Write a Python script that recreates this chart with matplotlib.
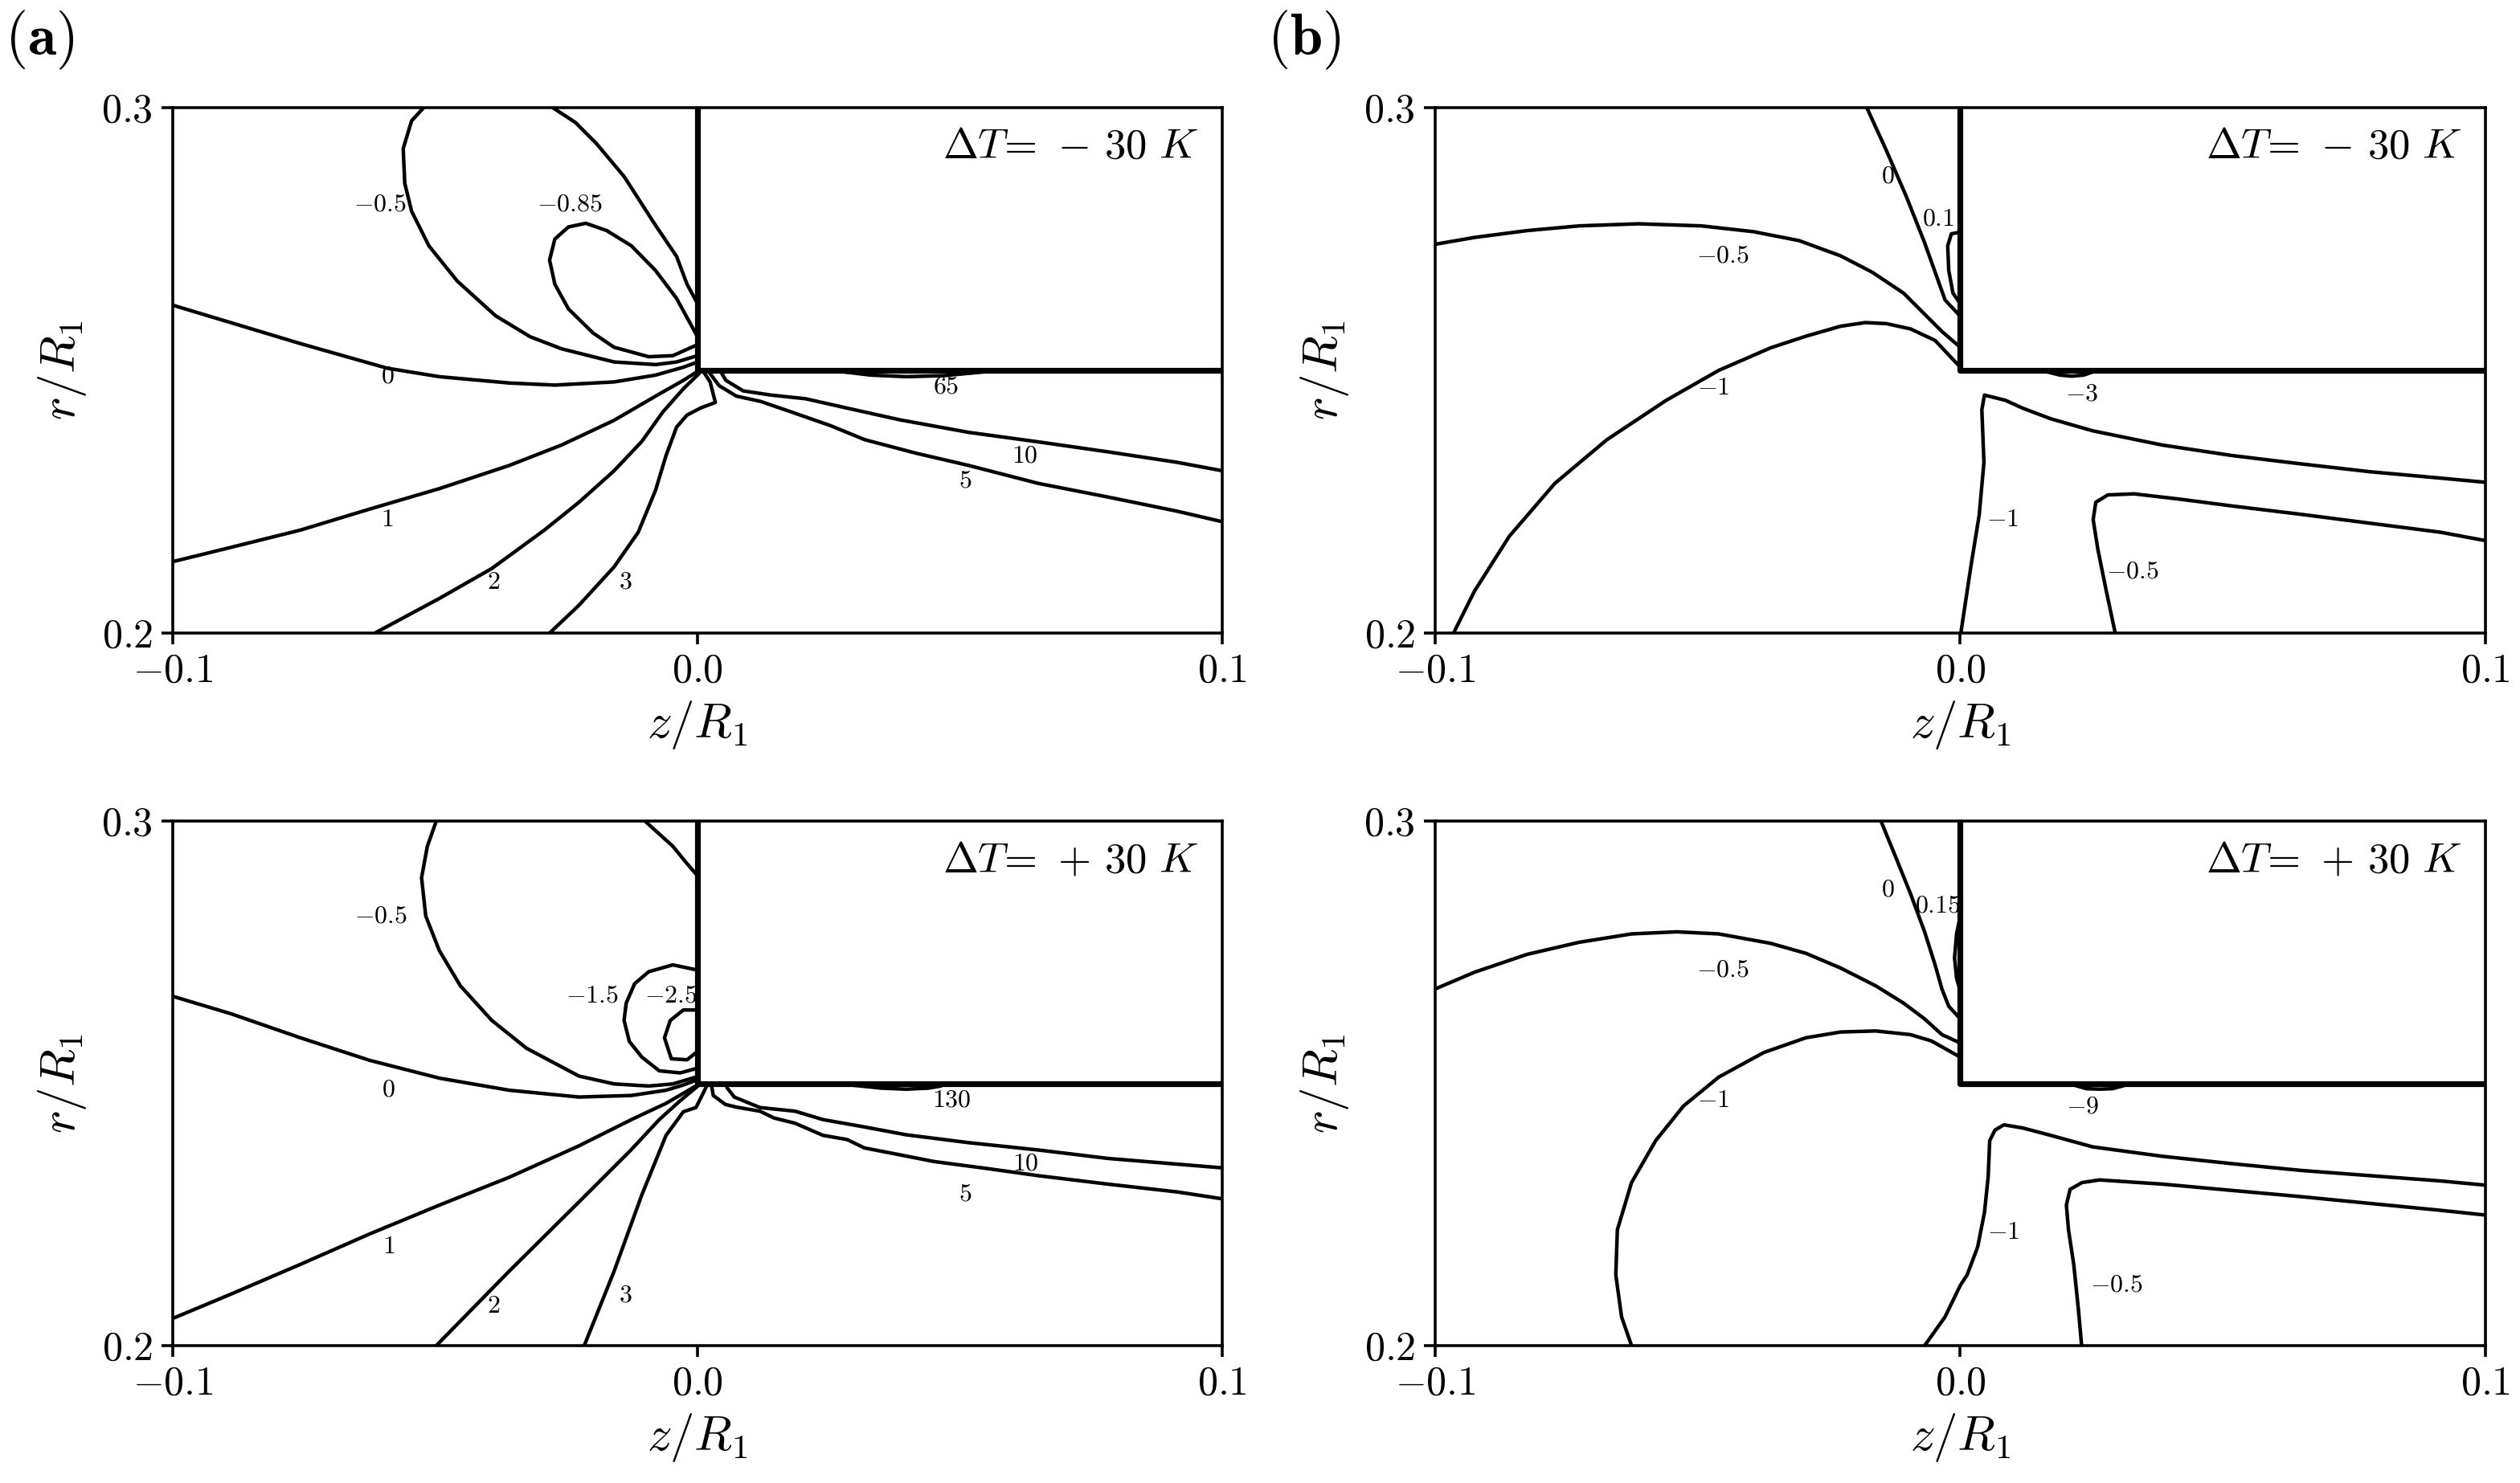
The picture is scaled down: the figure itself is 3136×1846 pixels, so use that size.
import matplotlib
matplotlib.use("Agg")
import matplotlib.pyplot as plt

plt.rcParams['mathtext.fontset'] = 'cm'
plt.rcParams['font.family'] = 'serif'
plt.rcParams['font.serif'] = ['cmr10', 'DejaVu Serif']

# axes
z_ticks = [-0.1, 0.0, 0.1]
z_ticklabels = [r'$-0.1$', r'$0.0$', r'$0.1$']
r_ticks = [0.2, 0.3]
r_ticklabels = [r'$0.2$', r'$0.3$']

# solid body outline (z/R1, r/R1)
body_z = [0.0, 0.0, 0.1]
body_r = [0.3, 0.25, 0.25]

# ---- (a) dT = -30 K : contour lines as (z, r) points
a1_zero = [(-0.1, 0.2624), (-0.0890, 0.2591), (-0.0757, 0.2551), (-0.0591, 0.2504), (-0.0492, 0.2488),
           (-0.0359, 0.2476), (-0.0272, 0.2472), (-0.0159, 0.2478), (-0.0080, 0.2491), (-0.0027, 0.2506),
           (0.0, 0.2516)]
a1_m05_left = [(-0.0522, 0.3), (-0.0545, 0.2975), (-0.0561, 0.2922), (-0.0558, 0.2856), (-0.0545, 0.2803),
               (-0.0512, 0.2737), (-0.0458, 0.2670), (-0.0385, 0.2604), (-0.0319, 0.2564), (-0.0259, 0.2541),
               (-0.0159, 0.2516), (-0.0080, 0.2511), (-0.0040, 0.2516), (0.0, 0.2528)]
a1_m05_right = [(-0.0276, 0.3), (-0.0233, 0.2972), (-0.0193, 0.2932), (-0.0140, 0.2869), (-0.0080, 0.2776),
                (-0.0040, 0.2717), (-0.0020, 0.2664), (0.0, 0.2627)]
a1_m085 = [(0.0, 0.2564), (-0.0040, 0.2637), (-0.0080, 0.2690), (-0.0126, 0.2737), (-0.0173, 0.2766),
           (-0.0213, 0.2780), (-0.0246, 0.2773), (-0.0272, 0.2750), (-0.0282, 0.2710), (-0.0272, 0.2664),
           (-0.0246, 0.2617), (-0.0199, 0.2571), (-0.0159, 0.2544), (-0.0093, 0.2526), (-0.0047, 0.2528),
           (0.0, 0.2549)]
a1_one = [(-0.1, 0.2136), (-0.0890, 0.2163), (-0.0757, 0.2196), (-0.0625, 0.2236), (-0.0492, 0.2275),
          (-0.0359, 0.2319), (-0.0259, 0.2358), (-0.0159, 0.2405), (-0.0080, 0.2451), (-0.0027, 0.2481),
          (0.0, 0.2498)]
a1_two = [(-0.0615, 0.2), (-0.0492, 0.2066), (-0.0392, 0.2123), (-0.0292, 0.2196), (-0.0226, 0.2249),
          (-0.0159, 0.2309), (-0.0106, 0.2365), (-0.0066, 0.2421), (-0.0027, 0.2465), (0.0003, 0.2494)]
a1_three = [(-0.0282, 0.2), (-0.0226, 0.2053), (-0.0159, 0.2126), (-0.0113, 0.2192), (-0.0080, 0.2272),
            (-0.0060, 0.2338), (-0.0040, 0.2392), (-0.0020, 0.2415), (0.0007, 0.2429), (0.0034, 0.2439),
            (0.0024, 0.2478), (0.0011, 0.2498)]
a1_ten = [(0.0044, 0.2498), (0.0054, 0.2481), (0.0087, 0.2461), (0.0140, 0.2453), (0.0206, 0.2446),
          (0.0286, 0.2428), (0.0385, 0.2406), (0.0517, 0.2382), (0.0649, 0.2364), (0.0782, 0.2345),
          (0.0914, 0.2325), (0.1, 0.2309)]
a1_five = [(0.0021, 0.2498), (0.0041, 0.2471), (0.0074, 0.2451), (0.0120, 0.2441), (0.0187, 0.2418),
           (0.0253, 0.2395), (0.0319, 0.2368), (0.0418, 0.2342), (0.0517, 0.2319), (0.0649, 0.2285),
           (0.0782, 0.2259), (0.0914, 0.2232), (0.1, 0.2212)]
a1_65 = [(0.0272, 0.2498), (0.0330, 0.2491), (0.0398, 0.2488), (0.0470, 0.2490), (0.0544, 0.2497)]
a1_labels = [(r'$-0.5$', -0.0605, 0.2816), (r'$-0.85$', -0.0243, 0.2816), (r'$0$', -0.0591, 0.2488),
             (r'$1$', -0.0591, 0.2216), (r'$2$', -0.0389, 0.2096), (r'$3$', -0.0138, 0.2096),
             (r'$65$', 0.0474, 0.2468), (r'$10$', 0.0624, 0.2337), (r'$5$', 0.0511, 0.2289)]

# ---- (a) dT = +30 K
a2_zero = [(-0.1, 0.2666), (-0.0890, 0.2633), (-0.0757, 0.2587), (-0.0625, 0.2544), (-0.0492, 0.2510),
           (-0.0359, 0.2487), (-0.0226, 0.2474), (-0.0126, 0.2477), (-0.0060, 0.2487), (-0.0027, 0.2497),
           (0.0, 0.2507)]
a2_m05_left = [(-0.0498, 0.3), (-0.0515, 0.2952), (-0.0526, 0.2892), (-0.0518, 0.2819), (-0.0492, 0.2753),
               (-0.0452, 0.2686), (-0.0392, 0.2620), (-0.0326, 0.2567), (-0.0226, 0.2514), (-0.0159, 0.2499),
               (-0.0093, 0.2495), (-0.0047, 0.2499), (0.0, 0.2513)]
a2_m05_right = [(-0.0100, 0.3), (-0.0047, 0.2952), (-0.0020, 0.2919), (0.0, 0.2896)]
a2_m15 = [(0.0, 0.2716), (-0.0047, 0.2726), (-0.0093, 0.2713), (-0.0120, 0.2690), (-0.0136, 0.2653),
          (-0.0140, 0.2620), (-0.0130, 0.2580), (-0.0106, 0.2550), (-0.0073, 0.2524), (-0.0033, 0.2520),
          (0.0, 0.2529)]
a2_m25 = [(0.0, 0.2640), (-0.0027, 0.2640), (-0.0052, 0.2620), (-0.0063, 0.2587), (-0.0050, 0.2547),
          (-0.0020, 0.2545), (0.0, 0.2561)]
a2_one = [(-0.1, 0.2052), (-0.0890, 0.2098), (-0.0757, 0.2155), (-0.0625, 0.2213), (-0.0492, 0.2268),
          (-0.0359, 0.2321), (-0.0226, 0.2381), (-0.0126, 0.2431), (-0.0060, 0.2462), (0.0, 0.2497)]
a2_two = [(-0.0498, 0.2), (-0.0359, 0.2142), (-0.0226, 0.2274), (-0.0126, 0.2374), (-0.0073, 0.2431),
          (-0.0033, 0.2467), (0.0003, 0.2497)]
a2_three = [(-0.0216, 0.2), (-0.0159, 0.2142), (-0.0106, 0.2288), (-0.0060, 0.2401), (-0.0027, 0.2446),
            (-0.0003, 0.2454), (0.0017, 0.2494)]
a2_ten = [(0.0056, 0.2492), (0.0070, 0.2474), (0.0119, 0.2454), (0.0186, 0.2447), (0.0239, 0.2431),
          (0.0318, 0.2417), (0.0398, 0.2402), (0.0517, 0.2387), (0.0650, 0.2373), (0.0782, 0.2357),
          (0.0915, 0.2346), (0.1, 0.2339)]
a2_five = [(0.0027, 0.2494), (0.0030, 0.2477), (0.0053, 0.2460), (0.0073, 0.2455), (0.0119, 0.2447),
           (0.0146, 0.2434), (0.0186, 0.2424), (0.0239, 0.2401), (0.0285, 0.2393), (0.0318, 0.2377),
           (0.0385, 0.2364), (0.0451, 0.2351), (0.0550, 0.2338), (0.0650, 0.2324), (0.0782, 0.2308),
           (0.0915, 0.2293), (0.1, 0.2280)]
a2_130 = [(0.0292, 0.2497), (0.0350, 0.2491), (0.0398, 0.2489), (0.0440, 0.2491), (0.0464, 0.2495)]
a2_labels = [(r'$-0.5$', -0.0603, 0.2819), (r'$0$', -0.0589, 0.2487), (r'$1$', -0.0589, 0.2188),
             (r'$2$', -0.0389, 0.2075), (r'$3$', -0.0138, 0.2095), (r'$-1.5$', -0.0201, 0.2666),
             (r'$-2.5$', -0.0051, 0.2666), (r'$130$', 0.0485, 0.2467), (r'$10$', 0.0625, 0.2346),
             (r'$5$', 0.0511, 0.2288)]

# ---- (b) dT = -30 K
b1_m05 = [(-0.1, 0.2740), (-0.0925, 0.2753), (-0.0825, 0.2766), (-0.0726, 0.2775), (-0.0613, 0.2779),
          (-0.0493, 0.2775), (-0.0394, 0.2764), (-0.0307, 0.2747), (-0.0228, 0.2718), (-0.0168, 0.2687),
          (-0.0108, 0.2647), (-0.0068, 0.2607), (-0.0035, 0.2574), (0.0, 0.2544)]
b1_m1_left = [(-0.0965, 0.2), (-0.0925, 0.2080), (-0.0859, 0.2184), (-0.0772, 0.2285), (-0.0673, 0.2368),
              (-0.0560, 0.2443), (-0.0460, 0.2500), (-0.0361, 0.2543), (-0.0294, 0.2565), (-0.0228, 0.2584),
              (-0.0181, 0.2591), (-0.0141, 0.2589), (-0.0095, 0.2579), (-0.0048, 0.2557), (0.0, 0.2506)]
b1_zero = [(-0.0178, 0.3), (-0.0141, 0.2919), (-0.0102, 0.2829), (-0.0068, 0.2743), (-0.0048, 0.2687),
           (-0.0029, 0.2634), (0.0, 0.2603)]
b1_p01 = [(0.0, 0.2763), (-0.0017, 0.2760), (-0.0024, 0.2737), (-0.0022, 0.2690), (-0.0014, 0.2647),
          (0.0, 0.2627)]
b1_m3 = [(0.0166, 0.2497), (0.0190, 0.2491), (0.0212, 0.2489), (0.0235, 0.2491), (0.0252, 0.2497)]
b1_m1_right = [(0.0001, 0.2), (0.0020, 0.2126), (0.0036, 0.2225), (0.0045, 0.2325), (0.0041, 0.2425),
               (0.0046, 0.2453), (0.0086, 0.2443), (0.0119, 0.2428), (0.0172, 0.2408), (0.0252, 0.2385),
               (0.0384, 0.2358), (0.0517, 0.2338), (0.0649, 0.2322), (0.0781, 0.2307), (0.0914, 0.2295),
               (0.1, 0.2287)]
b1_m05_right = [(0.0295, 0.2), (0.0278, 0.2080), (0.0262, 0.2159), (0.0253, 0.2216), (0.0258, 0.2249),
                (0.0281, 0.2263), (0.0331, 0.2265), (0.0417, 0.2255), (0.0517, 0.2242), (0.0649, 0.2226),
                (0.0781, 0.2209), (0.0914, 0.2192), (0.1, 0.2176)]
b1_labels = [(r'$0$', -0.0138, 0.2869), (r'$0.1$', -0.0042, 0.2788), (r'$-0.5$', -0.0452, 0.2718),
             (r'$-1$', -0.0470, 0.2466), (r'$-3$', 0.0232, 0.2455), (r'$-1$', 0.0081, 0.2216),
             (r'$-0.5$', 0.0328, 0.2116)]

# ---- (b) dT = +30 K
b2_m05 = [(-0.1, 0.2680), (-0.0925, 0.2712), (-0.0825, 0.2746), (-0.0726, 0.2769), (-0.0626, 0.2785),
          (-0.0540, 0.2789), (-0.0460, 0.2785), (-0.0361, 0.2767), (-0.0294, 0.2748), (-0.0228, 0.2720),
          (-0.0161, 0.2686), (-0.0108, 0.2653), (-0.0068, 0.2623), (-0.0035, 0.2593), (0.0, 0.2577)]
b2_m1_left = [(-0.0626, 0.2), (-0.0645, 0.2055), (-0.0656, 0.2135), (-0.0653, 0.2221), (-0.0626, 0.2311),
              (-0.0580, 0.2391), (-0.0527, 0.2457), (-0.0460, 0.2512), (-0.0374, 0.2559), (-0.0294, 0.2587),
              (-0.0228, 0.2598), (-0.0161, 0.2600), (-0.0095, 0.2593), (-0.0055, 0.2581), (0.0, 0.2550)]
b2_zero = [(-0.0151, 0.3), (-0.0122, 0.2929), (-0.0095, 0.2862), (-0.0068, 0.2789), (-0.0048, 0.2726),
           (-0.0035, 0.2680), (-0.0022, 0.2647), (0.0, 0.2623)]
b2_p015 = [(0.0, 0.2819), (-0.0007, 0.2786), (-0.0011, 0.2739), (-0.0007, 0.2700), (0.0, 0.2676)]
b2_m9 = [(0.0219, 0.2496), (0.0240, 0.2490), (0.0265, 0.2489), (0.0290, 0.2490), (0.0312, 0.2496)]
b2_m1_right = [(-0.0068, 0.2), (-0.0029, 0.2055), (0.0, 0.2115), (0.0013, 0.2135), (0.0033, 0.2188),
               (0.0046, 0.2254), (0.0053, 0.2321), (0.0056, 0.2391), (0.0066, 0.2411), (0.0083, 0.2421),
               (0.0119, 0.2415), (0.0172, 0.2401), (0.0252, 0.2379), (0.0385, 0.2361), (0.0517, 0.2347),
               (0.0650, 0.2334), (0.0782, 0.2324), (0.0915, 0.2314), (0.1, 0.2306)]
b2_m05_right = [(0.0231, 0.2), (0.0225, 0.2068), (0.0216, 0.2155), (0.0206, 0.2221), (0.0202, 0.2268),
                (0.0209, 0.2298), (0.0232, 0.2311), (0.0265, 0.2316), (0.0385, 0.2308), (0.0517, 0.2296),
                (0.0650, 0.2284), (0.0782, 0.2271), (0.0915, 0.2258), (0.1, 0.2249)]
b2_labels = [(r'$0$', -0.0138, 0.2869), (r'$0.15$', -0.0042, 0.2838), (r'$-0.5$', -0.0452, 0.2716),
             (r'$-1$', -0.0470, 0.2467), (r'$-9$', 0.0233, 0.2455), (r'$-1$', 0.0082, 0.2215),
             (r'$-0.5$', 0.0298, 0.2115)]

panels = [
    ([a1_zero, a1_m05_left, a1_m05_right, a1_m085, a1_one, a1_two, a1_three, a1_ten, a1_five, a1_65],
     a1_labels, r'$\Delta T\!=\,-\,30\ K$', [0.0686, 0.5731, 0.4164, 0.3543]),
    ([b1_m05, b1_m1_left, b1_zero, b1_p01, b1_m3, b1_m1_right, b1_m05_right],
     b1_labels, r'$\Delta T\!=\,-\,30\ K$', [0.5695, 0.5731, 0.4168, 0.3543]),
    ([a2_zero, a2_m05_left, a2_m05_right, a2_m15, a2_m25, a2_one, a2_two, a2_three, a2_ten, a2_five, a2_130],
     a2_labels, r'$\Delta T\!=\,+\,30\ K$', [0.0686, 0.0926, 0.4164, 0.3537]),
    ([b2_m05, b2_m1_left, b2_zero, b2_p015, b2_m9, b2_m1_right, b2_m05_right],
     b2_labels, r'$\Delta T\!=\,+\,30\ K$', [0.5695, 0.0926, 0.4168, 0.3537]),
]

fig = plt.figure(figsize=(15.68, 9.23), dpi=200)

for lines, labels, dt_text, rect in panels:
    ax = fig.add_axes(rect)
    for seg in lines:
        z, r = zip(*seg)
        ax.plot(z, r, color='k', lw=1.6, solid_joinstyle='round', solid_capstyle='round')
    ax.plot(body_z, body_r, color='k', lw=2.6, solid_capstyle='projecting')
    for txt, z, r in labels:
        ax.text(z, r, txt, fontsize=11.5, ha='center', va='center')
    ax.text(0.978, 0.96, dt_text, transform=ax.transAxes, ha='right', va='top', fontsize=19)

    ax.set_xlim(-0.1, 0.1)
    ax.set_ylim(0.2, 0.3)
    ax.set_xticks(z_ticks)
    ax.set_xticklabels(z_ticklabels)
    ax.set_yticks(r_ticks)
    ax.set_yticklabels(r_ticklabels)
    ax.tick_params(direction='out', length=5, width=1.3, labelsize=18, pad=4)
    for s in ax.spines.values():
        s.set_linewidth(1.3)
    ax.set_xlabel(r'$z/R_1$', fontsize=22, labelpad=4)
    ax.set_ylabel(r'$r/R_1$', fontsize=22, labelpad=6)

fig.text(0.002, 0.994, r'$\mathbf{(a)}$', fontsize=26, ha='left', va='top')
fig.text(0.503, 0.994, r'$\mathbf{(b)}$', fontsize=26, ha='left', va='top')

fig.savefig('out.png', dpi=200)
